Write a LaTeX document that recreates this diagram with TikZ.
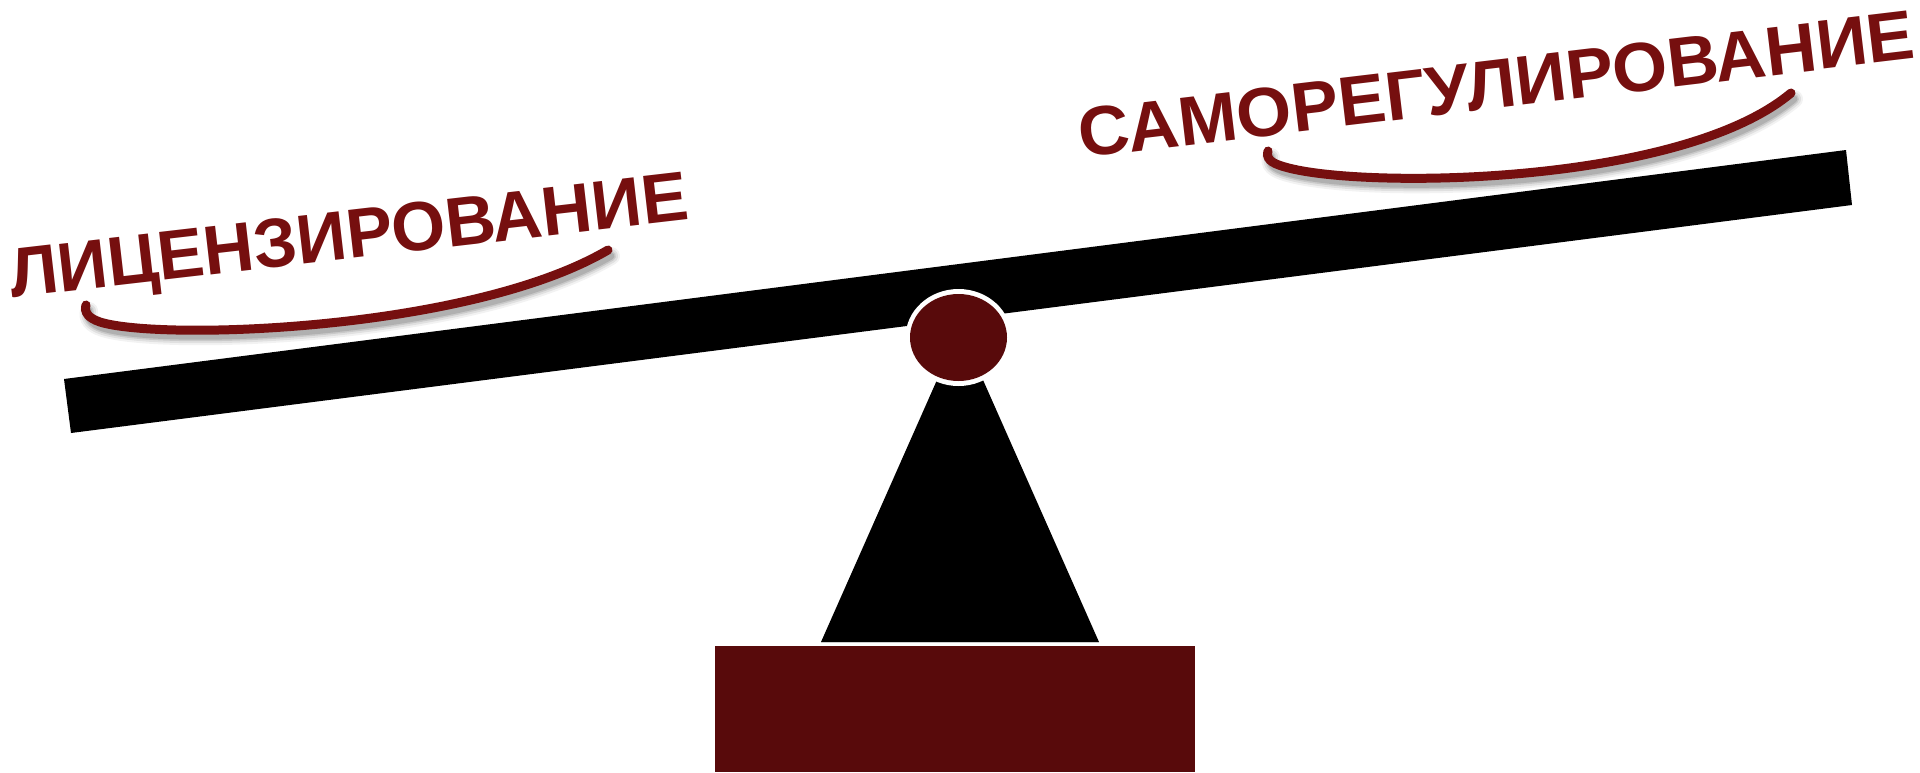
\documentclass[tikz,border=0pt]{standalone}
\usepackage{fontspec}
\setmainfont{Liberation Sans}
\definecolor{txtred}{RGB}{118,15,15}
\definecolor{basered}{RGB}{88,10,11}
\begin{document}
\begin{tikzpicture}[x=1pt,y=-1pt,
  lbl/.style={text=txtred, font=\fontsize{69.5}{74}\selectfont\bfseries, inner sep=0pt, anchor=base west},
  swoosh/.style={draw=txtred, line width=9pt, line cap=round},
  swshadow/.style={draw=black, line cap=round, shift={(3,6)}}]
\useasboundingbox[fill=white] (0,0) rectangle (1920,772);
% beam
\fill[black] (64,379) -- (1846,150) -- (1852,205) -- (71,433) -- cycle;
% stand
\fill[black] (821,642) -- (960,328) -- (1099,642) -- cycle;
\draw[gray!40, line width=1pt] (821,642.5) -- (1099,642.5);
% base
\fill[basered] (715,646) rectangle (1195,772);
% pivot
\fill[white] (958.5,337.5) ellipse [x radius=53, y radius=48.5];
\fill[basered] (958.5,337.5) ellipse [x radius=48.5, y radius=43.5];
% labels
\node[lbl, rotate=6.6] (lic) at (12,298) {ЛИЦЕНЗИРОВАНИЕ};
\node[lbl, rotate=6.8, xscale=1.02] (sro) at (1081,158) {САМОРЕГУЛИРОВАНИЕ};
% swoosh shadows
\foreach \w/\o in {18/0.05, 14/0.07, 10/0.10, 7/0.12} {
  \draw[swshadow, line width=\w pt, opacity=\o] (86,305) .. controls (84,312) and (88,318) .. (100,322) .. controls (160,341) and (470,331) .. (608,250);
  \draw[swshadow, line width=\w pt, opacity=\o] (1268,151) .. controls (1266,158) and (1270,163) .. (1285,167) .. controls (1360,189) and (1680,186) .. (1791,93);
}
% swooshes
\draw[swoosh] (86,305) .. controls (84,312) and (88,318) .. (100,322) .. controls (160,341) and (470,331) .. (608,250);
\draw[swoosh] (1268,151) .. controls (1266,158) and (1270,163) .. (1285,167) .. controls (1360,189) and (1680,186) .. (1791,93);
\end{tikzpicture}
\end{document}
